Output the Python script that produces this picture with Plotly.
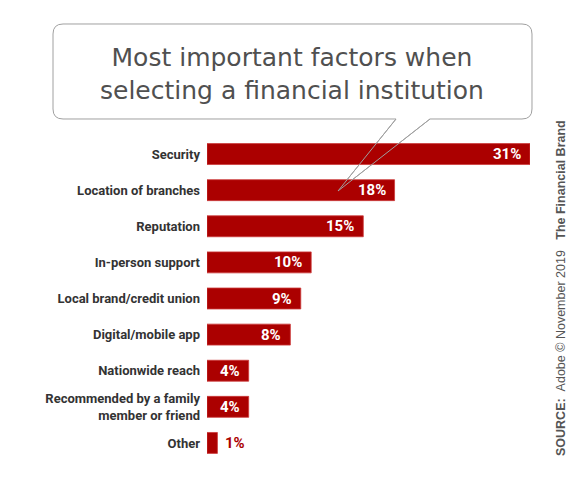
import plotly.graph_objects as go

# data
factors = [
    "Security",
    "Location of branches",
    "Reputation",
    "In-person support",
    "Local brand/credit union",
    "Digital/mobile app",
    "Nationwide reach",
    "Recommended by a family<br>member or friend",
    "Other",
]
shares = [31, 18, 15, 10, 9, 8, 4, 4, 1]
title_lines = ["Most important factors when", "selecting a financial institution"]
source_text = "<b>SOURCE:</b>\u00a0\u00a0Adobe © November 2019\u00a0\u00a0\u00a0<b>The Financial Brand</b>"

# the page puts the figure 8px in from the corner, so work in page pixels
OFF = 8
W, H = 585 - OFF, 477 - OFF
# plot area in page pixels
L, R, T, B = 207, 530, 136, 461
RED = "#ab0000"


def px(x):
    return (x - L) / (R - L)


def py(y):
    return (B - y) / (B - T)


fig = go.Figure()

fig.add_trace(go.Bar(
    y=factors,
    x=shares,
    orientation="h",
    marker=dict(color=RED, line=dict(color="#cc3a3a", width=0.8)),
    hoverinfo="x+y",
))

# value labels: inside the bar at its end, outside when the bar is too short
for f, v in zip(factors, shares):
    inside = v >= 3
    fig.add_annotation(
        x=v, y=f, xref="x", yref="y", text=f"{v}%", showarrow=False,
        xanchor="right" if inside else "left", xshift=-7 if inside else 6,
        font=dict(family="Roboto", size=15, weight=700,
                  color="white" if inside else RED),
    )

# speech bubble round the title
r = 10
l, rt, t, b = 53, 532, 24, 119
tail_a, tail_b, tip = 396, 430, (338, 191)
pts = [
    ("M", (l + r, t)), ("L", (rt - r, t)), ("Q", (rt, t), (rt, t + r)),
    ("L", (rt, b - r)), ("Q", (rt, b), (rt - r, b)),
    ("L", (tail_b, b)), ("L", tip), ("L", (tail_a, b)),
    ("L", (l + r, b)), ("Q", (l, b), (l, b - r)),
    ("L", (l, t + r)), ("Q", (l, t), (l + r, t)),
]
path = ""
for cmd, *coords in pts:
    path += cmd + " " + " ".join(f"{px(x):.5f},{py(y):.5f}" for x, y in coords) + " "
path += "Z"

fig.add_shape(type="path", path=path, xref="paper", yref="paper",
              fillcolor="white", line=dict(color="#a0a0a0", width=1), layer="below")
# tail outline drawn over the bars
for x0 in (tail_a, tail_b):
    fig.add_shape(type="line", xref="paper", yref="paper",
                  x0=px(x0), y0=py(b), x1=px(tip[0]), y1=py(tip[1]),
                  line=dict(color="#a0a0a0", width=1), layer="above")

fig.add_annotation(
    text="<br>".join(title_lines), xref="paper", yref="paper",
    x=px(292), y=py(74), xanchor="center", yanchor="middle", showarrow=False,
    font=dict(family="DejaVu Sans", size=25, color="#505050"),
)

fig.add_annotation(
    text=source_text,
    xref="paper", yref="paper", x=px(561), y=py(288),
    xanchor="center", yanchor="middle", textangle=-90, showarrow=False,
    font=dict(family="Liberation Sans", size=12.5, color="#555555"),
)

fig.update_layout(
    width=W, height=H,
    margin=dict(l=L - OFF, r=585 - R, t=T - OFF, b=477 - B, pad=0),
    paper_bgcolor="white", plot_bgcolor="white",
    showlegend=False, bargap=0.42,
)
fig.update_xaxes(visible=False, range=[0, 31], fixedrange=True)
fig.update_yaxes(
    categoryorder="array", categoryarray=factors, autorange="reversed",
    showgrid=False, zeroline=False, showline=False, ticks="",
    ticklabelstandoff=6,
    tickfont=dict(family="Roboto", size=13, color="#333333", weight=700),
)

fig.write_html("out.html")
